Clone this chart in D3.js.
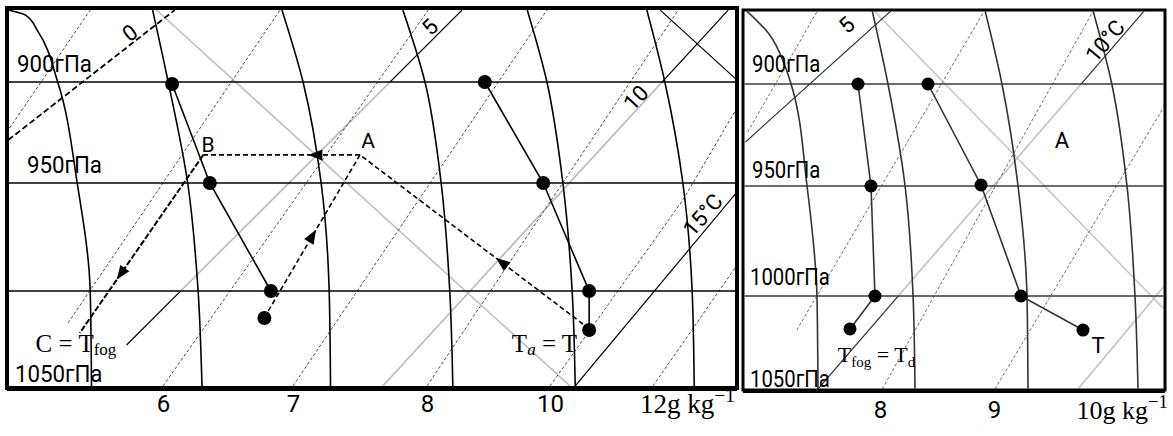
<!DOCTYPE html>
<html>
<head>
<meta charset="utf-8">
<script src="https://cdn.jsdelivr.net/npm/d3@7"></script>
<style>
  html, body { margin: 0; padding: 0; background: #fff; }
  svg { display: block; }
  text { font-family: Roboto, "Noto Sans", "DejaVu Sans", sans-serif; fill: #000; }
  .serif { font-family: "Liberation Serif", "DejaVu Serif", serif; }
</style>
</head>
<body>
<svg id="chart" width="1173" height="436"></svg>
<script>
// ======================= DATA =======================
// Pressure levels (hPa) and labels
const pressureLines = [900, 950, 1000];
const leftPressureLabels = [900, 950, 1050];
const rightPressureLabels = [900, 950, 1000, 1050];
const pressureUnit = "гПа";

// Mixing-ratio axis ticks (g/kg)
const leftTicks = [6, 7, 8, 10, 12];
const rightTicks = [8, 9, 10];

// ---------- LEFT PANEL (points as [mixing-ratio axis value, hPa]) ----------
const leftMoistAdiabats = [
  [[5.45, 1050], [5.44, 1000], [5.34, 950], [5.19, 900], [5.04, 875.2], [4.94, 866.8], [4.81, 864.4]],
  [[6.30, 1050], [6.27, 1000], [6.19, 950], [6.04, 900], [5.92, 864.4]],
  [[7.28, 1050], [7.27, 1000], [7.21, 950], [7.075, 900], [6.915, 864.4]],
  [[8.42, 1050], [8.37, 1000], [8.23, 950], [7.985, 900], [7.82, 864.4]],
  [[10.49, 1050], [10.43, 1000], [10.25, 950], [9.95, 900], [9.63, 864.4]],
  [[12.80, 1050], [12.76, 1000], [12.58, 950], [12.23, 900], [11.88, 864.4]]
];
const leftIsotherms = [
  { t: "0",    pts: [[4.81, 928.7], [6.09, 864.4]],  dark: [[800, 1100]], dashed: true },
  { t: "5",    pts: [[5.72, 1028.4], [8.57, 864.4]], dark: [[800, 900], [1000, 1100]] },
  { t: "10",   pts: [[7.67, 1050], [13.46, 864.4]],  dark: [[800, 900]] },
  { t: "15°C", pts: [[10.49, 1050], [13.63, 954.2]], dark: [[800, 1100]] }
];
const leftIsothermLabels = [
  { t: "0",    at: [5.746, 875.7], rot: -38 },
  { t: "5",    at: [8.05, 872.8],  rot: -45 },
  { t: "10",   at: [11.67, 907.9], rot: -47 },
  { t: "15°C", at: [12.97, 964.8], rot: -49 }
];
const leftDryAdiabats = [
  { pts: [[5.95, 864.4], [10.39, 1050]], dark: false },
  { pts: [[12.14, 864.4], [13.63, 899]], dark: true }
];
const leftMixingLines = [
  [[4.82, 922.8], [5.44, 864.4]],
  [[5.27, 1016.8], [6.90, 864.4]],
  [[6, 1050], [8.02, 864.4]],
  [[7, 1050], [9.95, 864.4]],
  [[8, 1050], [12.49, 864.4]],
  [[10, 1050], [12.58, 957.9], [13.63, 912.9]],
  [[12, 1050], [13.63, 988]]
];
const leftProfileCold = [[6.07, 901], [6.36, 950], [6.83, 1000]];
const leftProfileWarm = [[8.94, 900], [9.89, 950], [10.76, 1000], [10.76, 1020.5]];
const leftSurfaceCold = [[6.78, 1014.2]];
const leftArrows = [
  { pts: [[6.81, 1010.5], [7.50, 936.1]], at: 0.52 },
  { pts: [[7.50, 936.1], [6.31, 936.1]], at: 0.33 },
  { pts: [[10.64, 1017.4], [7.50, 936.1]], at: 0.39 },
  { pts: [[6.31, 936.1], [5.36, 1022.1]], at: 0.70, heavy: true }
];
const leftLetters = [{ t: "A", at: [7.56, 932.7] }, { t: "B", at: [6.346, 934.7] }];
const leftMathLabels = [
  { at: [5.02, 1032.0], parts: [["C = T", 0], ["fog", 1]] },
  { at: [9.38, 1032.1], parts: [["T", 0], ["a", 1, true], [" = T", 0]] }
];

// ---------- RIGHT PANEL ----------
const rightMoistAdiabats = [
  [[7.456, 1050], [7.447, 1000], [7.36, 950], [7.22, 900], [7.17, 891.7], [7.02, 875.0], [6.82, 863.7]],
  [[8.307, 1050], [8.29, 1000], [8.22, 950], [8.07, 900], [7.93, 863.7]],
  [[9.358, 1050], [9.347, 1000], [9.253, 950], [9.084, 900], [8.92, 863.7]],
  [[10.516, 1050], [10.484, 1000], [10.40, 950], [10.24, 900], [10.04, 863.7]]
];
const rightIsotherms = [
  { t: "5",    pts: [[6.82, 928.4], [8.105, 863.7]], dark: [[800, 1100]] },
  { t: "10°C", pts: [[7.456, 1050], [10.59, 863.7]], dark: [[800, 900], [1000, 1100]] },
  { t: "15",   pts: [[9.884, 1050], [10.8, 995]],    dark: [] }
];
const rightIsothermLabels = [
  { t: "5",    at: [7.71, 871.1],  rot: -42 },
  { t: "10°C", at: [10.17, 878.9], rot: -50 }
];
const rightDryAdiabats = [
  { pts: [[7.94, 863.7], [10.8, 1007.5]], dark: false }
];
const rightMixingLines = [
  [[6.84, 923.5], [7.456, 863.7]],
  [[7.27, 1018.3], [8.92, 863.7]],
  [[8.02, 1050], [10.05, 863.7]],
  [[9.01, 1050], [10.8, 910.3]]
];
const rightProfileDew = [[7.807, 900], [7.921, 950], [7.956, 1000], [7.737, 1017.7]];
const rightProfileTemp = [[8.421, 900], [8.886, 949.5], [9.284, 1000], [9.937, 1018.3]];
const rightLetters = [{ t: "A", at: [9.716, 931.4] }, { t: "T", at: [10.095, 1030.6] }];
const rightMathLabels = [
  { at: [7.63, 1035.5], parts: [["T", 0], ["fog", 1], [" = T", 0], ["d", 1]] }
];

// ======================= DRAWING =======================
const W = 1173, H = 436;
const svg = d3.select("#chart");
const defs = svg.append("defs");
let clipCount = 0;
function clipRect(x, y, w, h) {
  const id = "clip" + (clipCount++);
  defs.append("clipPath").attr("id", id)
    .append("rect").attr("x", x).attr("y", y).attr("width", w).attr("height", h);
  return `url(#${id})`;
}
function complement(ranges, lo, hi) {
  const out = []; let cur = lo;
  ranges.slice().sort((a, b) => a[0] - b[0]).forEach(r => {
    if (r[0] > cur) out.push([cur, r[0]]);
    cur = Math.max(cur, r[1]);
  });
  if (cur < hi) out.push([cur, hi]);
  return out;
}

const xL = d3.scaleLinear().domain([6, 7, 8, 10, 12]).range([163, 293, 427, 550, 653]);
const yL = d3.scaleLinear().domain([900, 950, 1000, 1050]).range([82, 183, 291, 386]);
const xR = d3.scaleLinear().domain([8, 9, 10]).range([880, 994, 1089]);
const yR = d3.scaleLinear().domain([900, 950, 1000, 1050]).range([84, 186, 296, 389]);

const panels = [
  {
    x: xL, y: yL, box: [9, 10, 726, 376],
    frame: { x: 7, y: 8, w: 730, h: 380, sw: 4 },
    col: { dark: "#000", gray: "#b9b9b9", dash: "#4a4a4a", level: "#000", text: "#000", dot: "#000" },
    moist: leftMoistAdiabats, iso: leftIsotherms, isoLabels: leftIsothermLabels,
    dry: leftDryAdiabats, mix: leftMixingLines,
    profiles: [leftProfileCold, leftProfileWarm],
    dots: [...leftProfileCold, ...leftProfileWarm, ...leftSurfaceCold],
    arrows: leftArrows, letters: leftLetters, letterSize: 21,
    math: leftMathLabels, mathSize: 25, subShift: 0.14,
    pLabels: leftPressureLabels,
    pLabelPos: { 900: [17, -10], 950: [27, -10], 1050: [15, -4] },
    pFont: 24, charW: 12.5,
    ticks: leftTicks, tickY: 395, tickFont: 24, unitFont: 27,
    dotR: 7
  },
  {
    x: xR, y: yR, box: [744.5, 11.5, 419, 377],
    frame: { x: 743, y: 10, w: 422, h: 380, sw: 3 },
    col: { dark: "#333", gray: "#c2c2c2", dash: "#6a6a6a", level: "#3a3a3a", text: "#222", dot: "#000" },
    moist: rightMoistAdiabats, iso: rightIsotherms, isoLabels: rightIsothermLabels,
    dry: rightDryAdiabats, mix: rightMixingLines,
    profiles: [rightProfileDew, rightProfileTemp],
    dots: [...rightProfileDew, ...rightProfileTemp],
    arrows: [], letters: rightLetters, letterSize: 22,
    math: rightMathLabels, mathSize: 22, subShift: 0.22,
    pLabels: rightPressureLabels,
    pLabelPos: { 900: [752, -12], 950: [752, -8], 1000: [750, -11], 1050: [750, -2] },
    pFont: 23, charW: 11.4,
    ticks: rightTicks, tickY: 401, tickFont: 24, unitFont: 26,
    dotR: 6.5
  }
];

panels.forEach(P => {
  const g = svg.append("g");
  const plot = g.append("g").attr("clip-path", clipRect(P.box[0], P.box[1], P.box[2], P.box[3]));
  const X = d => P.x(d[0]), Y = d => P.y(d[1]);
  const straight = d3.line().x(X).y(Y);
  const smooth = d3.line().x(X).y(Y).curve(d3.curveMonotoneY);
  const pClip = r => {
    const y0 = P.y(r[0]), y1 = P.y(r[1]);
    return clipRect(0, Math.min(y0, y1), W, Math.abs(y1 - y0));
  };

  // dry adiabats
  P.dry.forEach(d => {
    plot.append("path").attr("d", straight(d.pts)).attr("fill", "none")
      .attr("stroke", d.dark ? P.col.dark : P.col.gray).attr("stroke-width", d.dark ? 1.1 : 1.4);
  });
  // isotherms: gray parts
  P.iso.forEach(d => {
    complement(d.dark, 800, 1100).forEach(r => {
      plot.append("path").attr("d", straight(d.pts)).attr("fill", "none")
        .attr("clip-path", pClip(r))
        .attr("stroke", P.col.gray).attr("stroke-width", 1.6);
    });
  });
  // mixing-ratio lines (dashed)
  P.mix.forEach(d => {
    plot.append("path").attr("d", straight(d)).attr("fill", "none")
      .attr("stroke", P.col.dash).attr("stroke-width", 1).attr("stroke-dasharray", "3,2.2");
  });
  // pressure levels
  plot.selectAll(null).data(pressureLines).join("line")
    .attr("x1", P.box[0]).attr("x2", P.box[0] + P.box[2])
    .attr("y1", d => P.y(d)).attr("y2", d => P.y(d))
    .attr("stroke", P.col.level).attr("stroke-width", 1.6);
  // moist adiabats
  P.moist.forEach(d => {
    const pts = d.slice().sort((a, b) => a[1] - b[1]);
    plot.append("path").attr("d", smooth(pts)).attr("fill", "none")
      .attr("stroke", P.col.dark).attr("stroke-width", 1.6);
  });
  // isotherms: dark parts
  P.iso.forEach(d => {
    d.dark.forEach(r => {
      plot.append("path").attr("d", straight(d.pts)).attr("fill", "none")
        .attr("clip-path", pClip(r))
        .attr("stroke", P.col.dark)
        .attr("stroke-width", d.dashed ? 1.8 : 1.2)
        .attr("stroke-dasharray", d.dashed ? "6,3" : null);
    });
  });
  // profiles
  P.profiles.forEach(d => {
    plot.append("path").attr("d", straight(d)).attr("fill", "none")
      .attr("stroke", P.col.dark).attr("stroke-width", 1.6);
  });
  // dashed arrow paths
  P.arrows.forEach(a => {
    plot.append("path").attr("d", straight(a.pts)).attr("fill", "none")
      .attr("stroke", "#000").attr("stroke-width", a.heavy ? 2 : 1.6)
      .attr("stroke-dasharray", a.heavy ? "6,2" : "5,3");
    const x0 = X(a.pts[0]), y0 = Y(a.pts[0]), x1 = X(a.pts[1]), y1 = Y(a.pts[1]);
    const tx = x0 + a.at * (x1 - x0), ty = y0 + a.at * (y1 - y0);
    const ang = Math.atan2(y1 - y0, x1 - x0) * 180 / Math.PI;
    plot.append("path").attr("d", "M0,0 L-14,-5.5 L-14,5.5 Z").attr("fill", "#000")
      .attr("transform", `translate(${tx},${ty}) rotate(${ang})`);
  });
  // dots
  plot.selectAll(null).data(P.dots).join("circle")
    .attr("cx", X).attr("cy", Y).attr("r", P.dotR).attr("fill", P.col.dot);

  // frame
  g.append("rect").attr("x", P.frame.x).attr("y", P.frame.y)
    .attr("width", P.frame.w).attr("height", P.frame.h)
    .attr("fill", "none").attr("stroke", "#000").attr("stroke-width", P.frame.sw);
  g.append("line").attr("x1", P.frame.x).attr("x2", P.frame.x + P.frame.w)
    .attr("y1", P.frame.y + P.frame.h + 1).attr("y2", P.frame.y + P.frame.h + 1)
    .attr("stroke", "#000").attr("stroke-width", 4);

  // isotherm labels
  P.isoLabels.forEach(l => {
    g.append("text").attr("text-anchor", "middle").attr("dominant-baseline", "central")
      .attr("font-size", 22).attr("fill", P.col.text)
      .attr("transform", `translate(${P.x(l.at[0])},${P.y(l.at[1])}) rotate(${l.rot})`)
      .text(l.t);
  });
  // letters
  P.letters.forEach(l => {
    g.append("text").attr("text-anchor", "middle").attr("font-size", P.letterSize)
      .attr("fill", P.col.text)
      .attr("x", P.x(l.at[0])).attr("y", P.y(l.at[1])).text(l.t);
  });
  // math labels
  P.math.forEach(m => {
    const t = g.append("text").attr("class", "serif").attr("font-size", P.mathSize)
      .attr("fill", P.col.text)
      .attr("x", P.x(m.at[0])).attr("y", P.y(m.at[1]));
    let shift = 0;
    m.parts.forEach(pp => {
      const target = pp[1] ? P.mathSize * P.subShift : 0;
      t.append("tspan").attr("dy", target - shift)
        .attr("font-size", pp[1] ? P.mathSize * 0.68 : P.mathSize)
        .attr("font-style", pp[2] ? "italic" : null)
        .text(pp[0]);
      shift = target;
    });
  });
  // pressure labels
  P.pLabels.forEach(p => {
    const o = P.pLabelPos[p];
    const s = p + pressureUnit;
    g.append("text").attr("x", o[0]).attr("y", P.y(p) + o[1])
      .attr("font-size", P.pFont).attr("fill", P.col.text)
      .attr("textLength", s.length * P.charW).attr("lengthAdjust", "spacingAndGlyphs")
      .text(s);
  });
  // mixing-ratio axis
  const ax = g.append("g").attr("transform", `translate(0,${P.tickY})`)
    .call(d3.axisBottom(P.x).tickValues(P.ticks).tickSize(0).tickPadding(0).tickFormat(d3.format("d")));
  ax.select(".domain").remove();
  ax.selectAll(".tick text").attr("font-size", P.tickFont).attr("fill", P.col.text)
    .attr("font-family", "Roboto, 'Noto Sans', sans-serif").attr("dy", "0.71em");
  const lastTxt = ax.selectAll(".tick text").filter((d, i, n) => i === n.length - 1);
  lastTxt.each(function (d) {
    const t = d3.select(this);
    t.text(null).attr("class", "serif").attr("font-family", null)
      .attr("text-anchor", "start").attr("x", -P.unitFont * 0.5)
      .attr("font-size", P.unitFont).attr("dy", P.tickFont * 0.71 + 1);
    t.append("tspan").text(d + "g kg");
    t.append("tspan").attr("dy", -P.unitFont * 0.42).attr("font-size", P.unitFont * 0.72).text("−1");
  });
});
</script>
</body>
</html>
